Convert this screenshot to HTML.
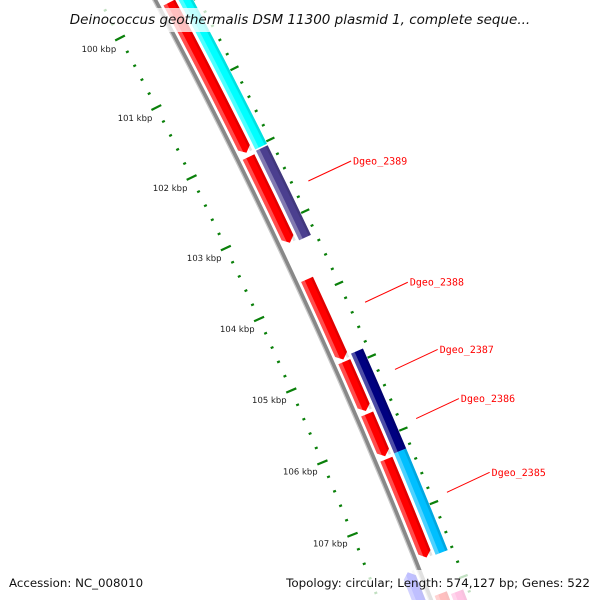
<!DOCTYPE html>
<html><head><meta charset="utf-8"><style>
html,body{margin:0;padding:0;background:#fff;overflow:hidden;width:600px;height:600px;}
svg{display:block;overflow:hidden;}
</style></head><body>
<svg id="map" width="600" height="600" viewBox="0 0 600 600" xmlns="http://www.w3.org/2000/svg">
<rect width="600" height="600" fill="#fff"/>
<g transform="matrix(1,0,0.015,1,0,0)">
<g id="ticks"></g>
<g id="backbone-g"></g>
<g id="genes"></g>
<g id="labels"></g>
</g>
<rect x="64" y="8" width="472" height="24" fill="#fff" opacity="0.75"/>
<text x="300" y="24" text-anchor="middle" font-family="DejaVu Sans, Liberation Sans, sans-serif" font-style="italic" font-size="13.5" fill="#111">Deinococcus geothermalis DSM 11300 plasmid 1, complete seque...</text>
<rect x="0" y="570" width="600" height="30" fill="#fff" opacity="0.75"/>
<text x="9" y="587" font-family="DejaVu Sans, Liberation Sans, sans-serif" font-size="11.8" fill="#111">Accession: NC_008010</text>
<text x="590" y="587" text-anchor="end" font-family="DejaVu Sans, Liberation Sans, sans-serif" font-size="11.9" fill="#111">Topology: circular; Length: 574,127 bp; Genes: 522</text>
</svg>
<script>
// data (kbp)
const tickStartKbp = 99.2;
const tickEndKbp = 108.2;
const tickStepKbp = 0.2;
const majorLabels = ["100 kbp","101 kbp","102 kbp","103 kbp","104 kbp","105 kbp","106 kbp","107 kbp"];
const majorValues = [100,101,102,103,104,105,106,107];
// forward strand, inner track (arrows)
const fwdStarts = [99.89, 102.08, 103.79, 104.93, 105.65, 106.27, 108.1];
const fwdEnds   = [102.02, 103.28, 104.90, 105.61, 106.23, 107.61, 108.35];
const fwdColors = ["#ff0000","#ff0000","#ff0000","#ff0000","#ff0000","#ff0000","#ff0000"];
// forward strand, outer track
const outStarts = [99.2, 102.05, 104.87, 106.24, 108.15];
const outEnds   = [102.03, 103.30, 106.24, 107.62, 108.35];
const outColors = ["#00ffff","#4b3f8f","#000080","#00bfff","#ff1493"];
// reverse strand tracks
const revStarts = [99.2, 99.2, 107.7];
const revEnds   = [99.5, 99.35, 108.35];
const revColors = ["#00ffff","#0000ff","#0000ff"];
const revTrack  = [1, 0, 0];
const labelNames = ["Dgeo_2389","Dgeo_2388","Dgeo_2387","Dgeo_2386","Dgeo_2385"];
const labelKbp = [102.675, 104.35, 105.27, 105.94, 106.94];

const NS = "http://www.w3.org/2000/svg";
const CX = -4604, CY = 2477;
const A0 = -27.31, K = 0.84;
function ang(k){ return (A0 + (k - 100) * K) * Math.PI / 180; }
function pt(r, k){ const a = ang(k); return [CX + r * Math.cos(a), CY + r * Math.sin(a)]; }
function mk(tag, attrs, parent){ const e = document.createElementNS(NS, tag); for (const k in attrs) e.setAttribute(k, attrs[k]); parent.appendChild(e); return e; }

// ticks
const tg = document.getElementById("ticks");
const nT = Math.round((tickEndKbp - tickStartKbp) / tickStepKbp);
for (let i = 0; i <= nT; i++) {
  const k = tickStartKbp + i * tickStepKbp;
  const major = Math.abs(k - Math.round(k)) < 1e-6;
  [[5316, major ? 5.5 : 1.5], [5404, major ? 4.5 : 1.5]].forEach(([r, h]) => {
    const p1 = pt(r - h, k), p2 = pt(r + h, k);
    const l = mk("line", {x1:p1[0], y1:p1[1], x2:p2[0], y2:p2[1], stroke:"#0a800a", "stroke-width":2.2}, tg);
    
    
  });
}
majorValues.forEach((k, i) => {
  const p = pt(5292, k);
  const t = mk("text", {x:p[0], y:p[1] + 3, "text-anchor":"middle", "font-family":"DejaVu Sans, Liberation Sans, sans-serif", "font-size":"8.5", fill:"#222"}, tg);
  t.textContent = majorLabels[i];
  
  
});

// backbone
const bg = document.getElementById("backbone-g");
function arcPath(r, k1, k2){ const a = pt(r, k1), b = pt(r, k2); return `M${a[0]},${a[1]} A${r},${r} 0 0 1 ${b[0]},${b[1]}`; }
const bb = mk("path", {d:arcPath(5365, 99.2, 108.35), stroke:"#888", "stroke-width":4.5, fill:"none"}, bg);


const bb2 = mk("path", {d:arcPath(5363, 99.2, 108.35), stroke:"#c8c8c8", "stroke-width":1.3, fill:"none"}, bg);



// genes
const gg = document.getElementById("genes");
function band(r1, r2, k1, k2, tip, dir){
  const tipK = 0.07;
  let s = k1, e = k2;
  if (tip && dir === 1) e = Math.max(k1, k2 - tipK);
  if (tip && dir === -1) s = Math.min(k2, k1 + tipK);
  const a = pt(r1, s), b = pt(r1, e), c = pt(r2, e), d = pt(r2, s);
  let p = `M${a[0]},${a[1]} A${r1},${r1} 0 0 1 ${b[0]},${b[1]} `;
  if (tip && dir === 1) { const t = pt((r1 + r2) / 2, k2); p += `L${t[0]},${t[1]} `; }
  p += `L${c[0]},${c[1]} A${r2},${r2} 0 0 0 ${d[0]},${d[1]} `;
  if (tip && dir === -1) { const t = pt((r1 + r2) / 2, k1); p += `L${t[0]},${t[1]} `; }
  return p + "Z";
}
function gene(r1, r2, k1, k2, color, tip, dir, name){
  const g = mk("g", {}, gg);
  
  
  mk("path", {d:band(r1, r2, k1, k2, tip, dir), fill:color}, g);
  mk("path", {d:band(r1, r1 + (r2 - r1) * 0.3, k1, k2, false, dir), fill:"#fff", opacity:0.3}, g);
  mk("path", {d:band(r2 - (r2 - r1) * 0.2, r2, k1, k2, false, dir), fill:"#000", opacity:0.12}, g);
}
fwdStarts.forEach((s, i) => gene(5370, 5383, s, fwdEnds[i], fwdColors[i], true, 1, 'forward-gene'));
outStarts.forEach((s, i) => gene(5386, 5399, s, outEnds[i], outColors[i], false, 1, 'forward-outer-gene'));
revStarts.forEach((s, i) => {
  const r1 = revTrack[i] === 0 ? 5347 : 5331;
  gene(r1, r1 + 13, s, revEnds[i], revColors[i], true, -1, 'reverse-gene');
});

// labels
const lg = document.getElementById("labels");
labelNames.forEach((n, i) => {
  const p = pt(5420, labelKbp[i]);
  const ex = p[0] + 43, ey = p[1] - 20;
  const l = mk("line", {x1:p[0], y1:p[1], x2:ex, y2:ey, stroke:"#ff0000", "stroke-width":1}, lg);
  
  
  const t = mk("text", {x:ex + 2, y:ey + 3.5, "font-family":"DejaVu Sans Mono, Liberation Mono, monospace", "font-size":"10", fill:"#ff0000"}, lg);
  t.textContent = n;
  
  
});
</script>
</body></html>
